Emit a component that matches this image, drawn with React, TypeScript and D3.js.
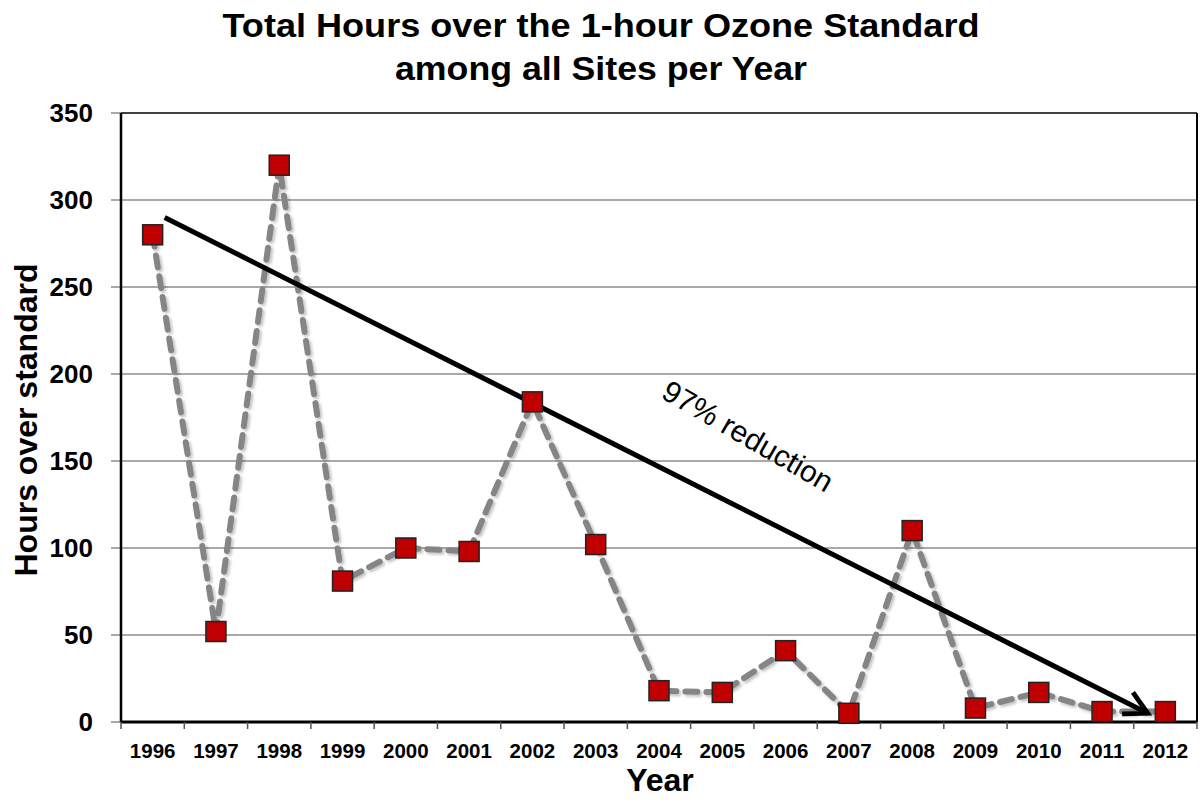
import React from "react";
import * as d3 from "d3";

const years = [
  "1996", "1997", "1998", "1999", "2000", "2001", "2002", "2003", "2004",
  "2005", "2006", "2007", "2008", "2009", "2010", "2011", "2012",
];
const hours = [280, 52, 320, 81, 100, 98, 184, 102, 18, 17, 41, 5, 110, 8, 17, 6, 6];
const yTicks = [0, 50, 100, 150, 200, 250, 300, 350];

// trend arrow, in (category index, value) units
const trendIdx = [0.19, 15.72];
const trendVal = [290, 5];

export default function App() {
  const width = 1200;
  const height = 800;
  const margin = { top: 113, right: 3, bottom: 78, left: 121 };
  const innerW = width - margin.left - margin.right;
  const innerH = height - margin.top - margin.bottom;

  const x = d3.scaleBand().domain(years).range([0, innerW]).padding(0);
  const y = d3.scaleLinear().domain([0, 350]).range([innerH, 0]);
  const idx = d3
    .scaleLinear()
    .domain([0, years.length - 1])
    .range([x.bandwidth() / 2, innerW - x.bandwidth() / 2]);

  const line = d3
    .line<number>()
    .x((d, i) => (x(years[i]) as number) + x.bandwidth() / 2)
    .y((d) => y(d));

  const tx1 = idx(trendIdx[0]);
  const ty1 = y(trendVal[0]);
  const tx2 = idx(trendIdx[1]);
  const ty2 = y(trendVal[1]);

  const font = "Arial, 'Liberation Sans', Helvetica, sans-serif";

  return (
    <svg
      width={width}
      height={height}
      style={{ position: "absolute", left: 0, top: 0, background: "#fff" }}
      fontFamily={font}
    >
      <defs>
        <filter id="shadow" x="-20%" y="-20%" width="140%" height="140%">
          <feGaussianBlur in="SourceAlpha" stdDeviation="1.5" />
          <feOffset dx="2" dy="2" result="blur" />
          <feComponentTransfer>
            <feFuncA type="linear" slope="0.25" />
          </feComponentTransfer>
          <feMerge>
            <feMergeNode />
            <feMergeNode in="SourceGraphic" />
          </feMerge>
        </filter>
        <marker
          id="arrow"
          viewBox="0 0 10 10"
          refX="8.5"
          refY="5"
          markerWidth="6"
          markerHeight="6"
          orient="auto"
          markerUnits="strokeWidth"
        >
          <path d="M1,1 L8.5,5 L1,9" fill="none" stroke="#000" strokeWidth="1.6" />
        </marker>
      </defs>

      <text x={601} y={37} textAnchor="middle" fontSize={34} fontWeight="bold" textLength={757} lengthAdjust="spacingAndGlyphs">
        Total Hours over the 1-hour Ozone Standard
      </text>
      <text x={601} y={80} textAnchor="middle" fontSize={34} fontWeight="bold" textLength={412} lengthAdjust="spacingAndGlyphs">
        among all Sites per Year
      </text>

      <g transform={`translate(${margin.left},${margin.top})`}>
        {yTicks.map((t) => (
          <g key={t}>
            {t > 0 && t < 350 && (
              <line x1={0} x2={innerW} y1={y(t)} y2={y(t)} stroke="#8c8c8c" strokeWidth={1.5} />
            )}
            <line x1={-10} x2={0} y1={y(t)} y2={y(t)} stroke="#8c8c8c" strokeWidth={1.5} />
            <text
              x={-28}
              y={y(t)}
              dy="0.36em"
              textAnchor="end"
              fontSize={26}
              fontWeight="bold"
            >
              {t}
            </text>
          </g>
        ))}

        {/* plot frame */}
        <line x1={0} x2={innerW} y1={0} y2={0} stroke="#000" strokeWidth={1.5} />
        <line x1={innerW} x2={innerW} y1={0} y2={innerH} stroke="#000" strokeWidth={2} />
        <line x1={0} x2={0} y1={0} y2={innerH} stroke="#000" strokeWidth={2.5} />
        <line x1={0} x2={innerW} y1={innerH} y2={innerH} stroke="#000" strokeWidth={3} />

        {years.map((yr, i) => (
          <g key={yr}>
            <line
              x1={x(yr) as number}
              x2={x(yr) as number}
              y1={innerH}
              y2={innerH + 7}
              stroke="#555"
              strokeWidth={1.5}
            />
            <text
              x={(x(yr) as number) + x.bandwidth() / 2}
              y={innerH + 36}
              textAnchor="middle"
              fontSize={20.5}
              fontWeight="bold"
            >
              {yr}
            </text>
          </g>
        ))}
        <line
          x1={innerW}
          x2={innerW}
          y1={innerH}
          y2={innerH + 7}
          stroke="#555"
          strokeWidth={1.5}
        />

        <path
          d={line(hours) as string}
          fill="none"
          stroke="#858585"
          strokeWidth={6}
          strokeDasharray="12 9"
          strokeLinecap="round"
          strokeLinejoin="round"
          filter="url(#shadow)"
        />

        <line
          x1={tx1}
          y1={ty1}
          x2={tx2}
          y2={ty2}
          stroke="#000"
          strokeWidth={5}
          markerEnd="url(#arrow)"
        />

        {hours.map((h, i) => (
          <rect
            key={years[i]}
            x={(x(years[i]) as number) + x.bandwidth() / 2 - 10}
            y={y(h) - 10}
            width={20}
            height={20}
            fill="#c00000"
            stroke="#222"
            strokeWidth={1.5}
          />
        ))}

        <text
          transform={`translate(${748 - margin.left},${436 - margin.top}) rotate(30)`}
          textAnchor="middle"
          dy="0.35em"
          fontSize={30}
        >
          97% reduction
        </text>
      </g>

      <text
        transform={`translate(37,${420}) rotate(-90)`}
        textAnchor="middle"
        fontSize={32}
        fontWeight="bold"
      >
        Hours over standard
      </text>
      <text x={660} y={791} textAnchor="middle" fontSize={32} fontWeight="bold">
        Year
      </text>
    </svg>
  );
}
